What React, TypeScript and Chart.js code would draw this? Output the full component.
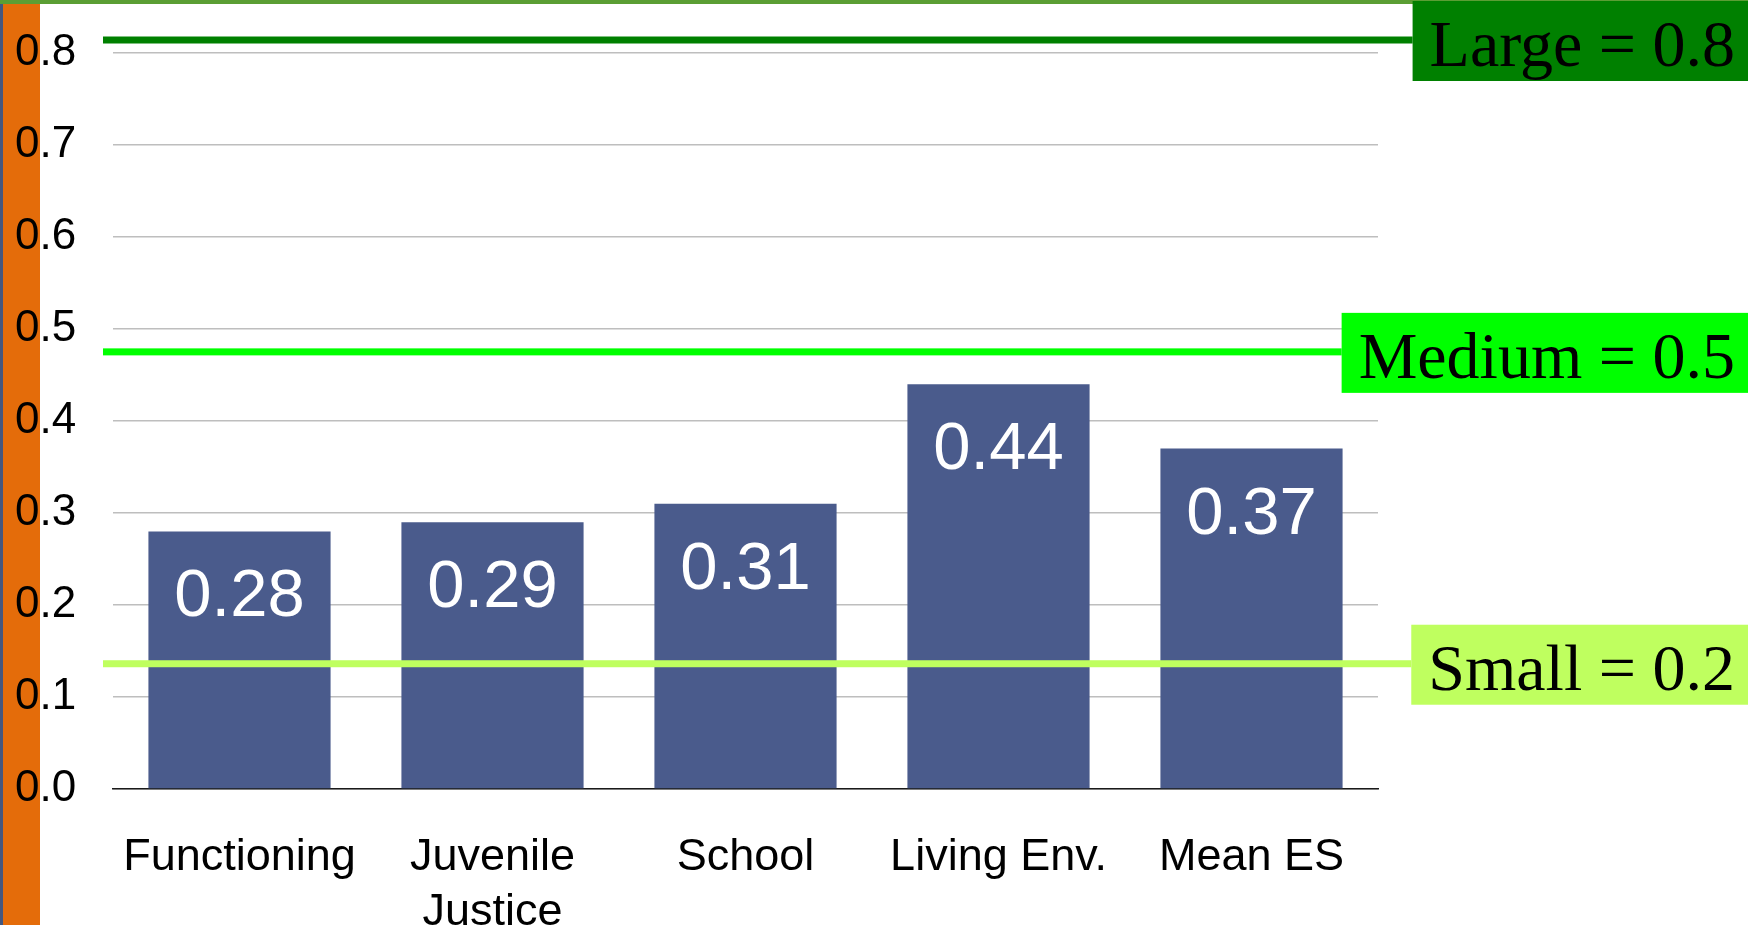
import { useEffect, useRef } from "react";
import { Chart, registerables } from "chart.js";

Chart.register(...registerables);

// Effect sizes per outcome domain
const categories: (string | string[])[] = [
  "Functioning",
  ["Juvenile", "Justice"],
  "School",
  "Living Env.",
  "Mean ES",
];
const effectSizes = [0.28, 0.29, 0.31, 0.44, 0.37];
const yTickLabels = ["0.0", "0.1", "0.2", "0.3", "0.4", "0.5", "0.6", "0.7", "0.8"];

// Cohen's benchmark thresholds shown as banded reference lines
const thresholdNames = ["Large", "Medium", "Small"];
const thresholdValues = [0.8, 0.5, 0.2];
const thresholdColors = ["#008000", "#00FF00", "#BFFF5F"];

const SANS = '"Liberation Sans", Arial, sans-serif';
const SERIF = '"Liberation Serif", "Times New Roman", serif';

const pageDecor = {
  id: "pageDecor",
  beforeDraw(chart: any) {
    const { ctx, width, height } = chart;
    ctx.save();
    ctx.fillStyle = "#FFFFFF";
    ctx.fillRect(0, 0, width, height);
    ctx.fillStyle = "#E46C0A";
    ctx.fillRect(3, 0, 37, height);
    ctx.fillStyle = "#44577F";
    ctx.fillRect(0, 0, 3, height);
    ctx.fillStyle = "#5B9E34";
    ctx.fillRect(0, 0, width, 4);
    ctx.restore();
  },
};

const barValueLabels = {
  id: "barValueLabels",
  afterDatasetsDraw(chart: any) {
    const { ctx } = chart;
    const meta = chart.getDatasetMeta(0);
    ctx.save();
    ctx.font = `67px ${SANS}`;
    ctx.fillStyle = "#FFFFFF";
    ctx.textAlign = "center";
    ctx.textBaseline = "alphabetic";
    meta.data.forEach((bar: any, i: number) => {
      ctx.fillText(effectSizes[i].toFixed(2), bar.x, bar.y + 85);
    });
    ctx.restore();
  },
};

const thresholdBands = {
  id: "thresholdBands",
  afterDraw(chart: any) {
    const { ctx, width, chartArea } = chart;
    const ref = chart.scales.yRef;
    ctx.save();
    ctx.font = `66px ${SERIF}`;
    thresholdValues.forEach((v, i) => {
      const y = ref.getPixelForValue(v);
      const label = `${thresholdNames[i]} = ${v.toFixed(1)}`;
      const textRight = width - 13;
      const w = ctx.measureText(label).width;
      const boxLeft = textRight - w - 17;
      const lineStart = chartArea.left - 10;
      ctx.fillStyle = thresholdColors[i];
      ctx.fillRect(lineStart, y - 3.5, boxLeft - lineStart, 7);
      ctx.fillRect(boxLeft, y + 1 - 40, width - boxLeft, 80);
      ctx.fillStyle = "#000000";
      ctx.textAlign = "right";
      ctx.textBaseline = "alphabetic";
      ctx.fillText(label, textRight, y + 26);
    });
    ctx.restore();
  },
};

export default function App() {
  const canvasRef = useRef<HTMLCanvasElement | null>(null);

  useEffect(() => {
    const canvas = canvasRef.current;
    if (!canvas) return;
    const chart = new Chart(canvas, {
      type: "bar",
      data: {
        labels: categories,
        datasets: [
          {
            data: effectSizes,
            backgroundColor: "#4A5B8C",
            borderWidth: 0,
            categoryPercentage: 1,
            barPercentage: 0.72,
            yAxisID: "y",
          },
        ],
      },
      options: {
        responsive: false,
        animation: false,
        devicePixelRatio: 1,
        layout: { padding: { left: 15, top: 53, right: 370, bottom: 0 } },
        plugins: {
          legend: { display: false },
          tooltip: { enabled: false },
        },
        scales: {
          x: {
            grid: { display: false, drawTicks: false },
            border: { display: true, color: "#1A1A1A", width: 1.5 },
            ticks: {
              color: "#000000",
              padding: 41,
              maxRotation: 0,
              autoSkip: false,
              font: { family: SANS, size: 45, lineHeight: 1.22 },
            },
            afterFit: (scale: any) => {
              scale.height = 136;
            },
          },
          y: {
            min: 0,
            max: 0.8,
            grid: { color: "#BEBEBE", lineWidth: 1.5, drawTicks: false },
            border: { display: false },
            ticks: {
              stepSize: 0.1,
              color: "#000000",
              padding: 0,
              crossAlign: "far",
              font: { family: SANS, size: 44 },
              callback: (_v: any, index: number) => yTickLabels[index],
            },
            afterFit: (scale: any) => {
              scale.width = 98;
            },
          },
          yRef: {
            type: "linear",
            display: false,
            min: 0.0795,
            max: 0.7875,
          },
        },
      },
      plugins: [pageDecor, barValueLabels, thresholdBands],
    });
    return () => chart.destroy();
  }, []);

  return (
    <div style={{ position: "fixed", left: 0, top: 0, width: 1748, height: 925 }}>
      <canvas ref={canvasRef} width={1748} height={925} />
    </div>
  );
}
